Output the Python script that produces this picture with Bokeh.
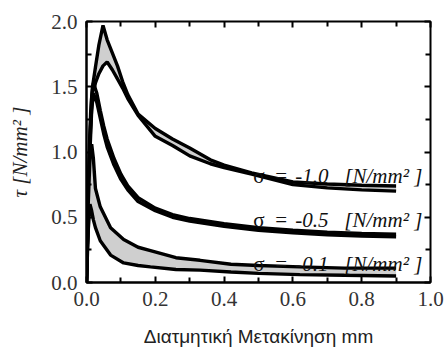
from bokeh.plotting import figure
from bokeh.models import Range1d, LinearAxis, FixedTicker, ColumnDataSource
from bokeh.core.properties import value
from bokeh.embed import file_html
from bokeh.resources import INLINE

# ---- data ----
# sigma = -1.0 band
x_s10 = [0, 0.004, 0.008, 0.012, 0.017, 0.026, 0.036, 0.048, 0.06, 0.075, 0.09, 0.105, 0.12, 0.15,
         0.2, 0.25, 0.3, 0.36, 0.4, 0.48, 0.6, 0.7, 0.8, 0.9]
up_s10 = [0, 0.5, 1.0, 1.3, 1.49, 1.65, 1.82, 1.97, 1.86, 1.76, 1.66, 1.54, 1.44, 1.29,
          1.18, 1.10, 1.03, 0.94, 0.90, 0.84, 0.77, 0.755, 0.745, 0.74]
lo_s10 = [0, 0.4, 0.9, 1.2, 1.42, 1.53, 1.60, 1.66, 1.69, 1.63, 1.56, 1.49, 1.41, 1.28,
          1.12, 1.05, 0.97, 0.91, 0.88, 0.83, 0.75, 0.725, 0.71, 0.70]
# sigma = -0.5 band
x_s05 = [0, 0.005, 0.01, 0.015, 0.02, 0.03, 0.04, 0.05, 0.06, 0.08, 0.1, 0.12, 0.15, 0.2, 0.25,
         0.3, 0.4, 0.5, 0.6, 0.7, 0.8, 0.9]
up_s05 = [0, 0.6, 1.1, 1.42, 1.53, 1.45, 1.32, 1.2, 1.1, 0.95, 0.83, 0.74, 0.65, 0.57, 0.52,
          0.49, 0.45, 0.42, 0.40, 0.385, 0.375, 0.37]
lo_s05 = [0, 0.5, 1.0, 1.32, 1.45, 1.38, 1.26, 1.14, 1.04, 0.90, 0.79, 0.71, 0.62, 0.55, 0.50,
          0.47, 0.43, 0.40, 0.38, 0.365, 0.355, 0.35]
# sigma = -0.1 band
x_s01 = [0, 0.005, 0.01, 0.015, 0.02, 0.026, 0.04, 0.07, 0.108, 0.15, 0.186, 0.26, 0.33, 0.42,
         0.5, 0.62, 0.75, 0.9]
up_s01 = [0, 0.6, 0.95, 1.06, 0.95, 0.72, 0.58, 0.42, 0.33, 0.27, 0.245, 0.19, 0.17, 0.14,
          0.13, 0.12, 0.11, 0.11]
lo_s01 = [0, 0.4, 0.6, 0.55, 0.48, 0.42, 0.32, 0.21, 0.15, 0.13, 0.12, 0.10, 0.095, 0.08,
          0.07, 0.06, 0.055, 0.05]

label_sigma = ["-1.0", "-0.5", "-0.1"]

x_ticks = [0.0, 0.2, 0.4, 0.6, 0.8, 1.0]
x_minor = [0.1, 0.3, 0.5, 0.7, 0.9]
y_ticks = [0.0, 0.5, 1.0, 1.5, 2.0]
y_minor = [0.25, 0.75, 1.25, 1.75]

x_title = "Διατμητική Μετακίνηση mm"
NB = "\u00a0"
y_title = "τ [N/mm²" + NB + "]"

# ---- figure ----
p = figure(width=445, height=349, output_backend="svg", toolbar_location=None,
           x_range=Range1d(0, 1), y_range=Range1d(0, 2),
           min_border_left=86, min_border_right=15, min_border_top=21, min_border_bottom=60)
p.background_fill_color = "white"
p.border_fill_color = "white"
p.grid.visible = False
p.outline_line_color = "black"
p.outline_line_width = 2

FILL = "#cfcfcf"
for xs, up, lo in [(x_s10, up_s10, lo_s10), (x_s05, up_s05, lo_s05), (x_s01, up_s01, lo_s01)]:
    p.varea(x=xs, y1=lo, y2=up, fill_color=FILL)
    p.line(xs, up, line_color="black", line_width=3.4)
    p.line(xs, lo, line_color="black", line_width=3.4)

# labels
src = ColumnDataSource(dict(x=[0.485, 0.485, 0.485], y=[0.815, 0.48, 0.145],
                            s=["σ" + NB * 2 + "=" for _ in label_sigma],
                            t=[v + NB * 3 + "[N/mm²" + NB + "]" for v in label_sigma]))
p.text(x="x", y="y", text="s", source=src, text_font=value("Liberation Serif"),
       text_font_size="21px", text_color="#111", text_baseline="alphabetic")
p.text(x="x", y="y", text="t", source=src, text_font=value("Liberation Serif"),
       text_font_style="italic", text_font_size="21px", text_color="#111",
       text_baseline="alphabetic", x_offset=42)

def style_axis(ax, ticks, labels=True):
    ax.major_tick_in = 6
    ax.major_tick_out = 0
    ax.minor_tick_in = 5
    ax.minor_tick_out = 0
    ax.major_tick_line_color = "black"
    ax.minor_tick_line_color = "black"
    ax.major_tick_line_width = 2
    ax.minor_tick_line_width = 2
    if labels:
        ax.axis_line_color = "black"
        ax.axis_line_width = 2
        ax.major_label_text_font = "Liberation Serif"
        ax.major_label_text_font_size = "21px"
        ax.major_label_text_color = "#333"
        ax.major_label_standoff = 9
        ax.major_label_overrides = {v: f"{v:.1f}" for v in ticks}
    else:
        ax.axis_line_color = None
        ax.major_label_overrides = {v: "" for v in ticks}
        ax.major_label_standoff = 0
        ax.major_label_text_font_size = "1px"

p.xaxis.ticker = FixedTicker(ticks=x_ticks, minor_ticks=x_minor)
p.yaxis.ticker = FixedTicker(ticks=y_ticks, minor_ticks=y_minor)
style_axis(p.xaxis[0], x_ticks)
style_axis(p.yaxis[0], y_ticks)

p.xaxis.axis_label = x_title
p.xaxis.axis_label_text_font = "Liberation Sans"
p.xaxis.axis_label_text_font_style = "normal"
p.xaxis.axis_label_text_font_size = "19px"
p.xaxis.axis_label_text_color = "#222"
p.xaxis.axis_label_standoff = 17

p.yaxis.axis_label = y_title
p.yaxis.axis_label_text_font = "Liberation Serif"
p.yaxis.axis_label_text_font_style = "italic"
p.yaxis.axis_label_text_font_size = "21px"
p.yaxis.axis_label_text_color = "#222"
p.yaxis.axis_label_standoff = 16

ra = LinearAxis(ticker=FixedTicker(ticks=y_ticks, minor_ticks=y_minor))
style_axis(ra, y_ticks, labels=False)
p.add_layout(ra, "right")
ta = LinearAxis(ticker=FixedTicker(ticks=x_ticks, minor_ticks=x_minor))
style_axis(ta, x_ticks, labels=False)
p.add_layout(ta, "above")

open("out.html", "w").write(file_html(p, INLINE))
